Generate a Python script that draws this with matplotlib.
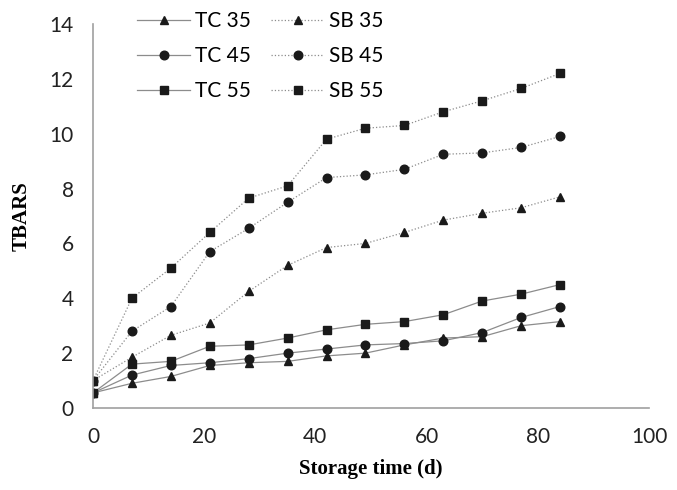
import matplotlib
matplotlib.use("Agg")
import matplotlib.pyplot as plt

days = [0, 7, 14, 21, 28, 35, 42, 49, 56, 63, 70, 77, 84]
tc35 = [0.55, 0.9, 1.15, 1.55, 1.65, 1.7, 1.9, 2.0, 2.3, 2.55, 2.6, 3.0, 3.15]
tc45 = [0.55, 1.2, 1.55, 1.65, 1.8, 2.0, 2.15, 2.3, 2.35, 2.45, 2.75, 3.3, 3.7]
tc55 = [0.55, 1.6, 1.7, 2.25, 2.3, 2.55, 2.85, 3.05, 3.15, 3.4, 3.9, 4.15, 4.5]
sb35 = [1.0, 1.85, 2.65, 3.1, 4.25, 5.2, 5.85, 6.0, 6.4, 6.85, 7.1, 7.3, 7.7]
sb45 = [1.0, 2.8, 3.7, 5.7, 6.55, 7.5, 8.4, 8.5, 8.7, 9.25, 9.3, 9.5, 9.9]
sb55 = [1.0, 4.0, 5.1, 6.4, 7.65, 8.1, 9.8, 10.2, 10.3, 10.8, 11.2, 11.65, 12.2]

fig = plt.figure(figsize=(6.77, 4.9), dpi=100)
ax = fig.add_axes([93/677, 1-408/490, (649-93)/677, (408-24)/490])

lc = '#8c8c8c'
mk = dict(color=lc, markerfacecolor='#1a1a1a', markeredgecolor='#1a1a1a')
series = [
    ('TC 35', tc35, '^', '-', 6.2),
    ('TC 45', tc45, 'o', '-', 6.2),
    ('TC 55', tc55, 's', '-', 6.0),
    ('SB 35', sb35, '^', ':', 6.2),
    ('SB 45', sb45, 'o', ':', 6.2),
    ('SB 55', sb55, 's', ':', 6.0),
]
for lab, vals, m, ls, ms in series:
    ax.plot(days, vals, marker=m, linestyle=ls, linewidth=0.9, markersize=ms, label=lab, **mk)

ax.set_xlim(0, 100)
ax.set_ylim(0, 14)
ax.set_xticks(range(0, 101, 20))
ax.set_yticks(range(0, 15, 2))
for s in ['top', 'right']:
    ax.spines[s].set_visible(False)
for s in ['left', 'bottom']:
    ax.spines[s].set_color('#a0a0a0')
    ax.spines[s].set_linewidth(1.2)
ax.tick_params(length=0, labelsize=15, labelcolor='#222222')
ax.tick_params(axis='y', pad=14)
ax.tick_params(axis='x', pad=14)
for t in ax.get_xticklabels() + ax.get_yticklabels():
    t.set_fontfamily('Lato')

ax.set_xlabel('Storage time (d)', fontfamily='Liberation Serif', fontweight='bold', fontsize=15, labelpad=8)
ax.set_ylabel('TBARS', fontfamily='Liberation Serif', fontweight='bold', fontsize=15, labelpad=13)

leg = ax.legend(ncol=2, loc='upper left', bbox_to_anchor=(129/677, 1-3/490),
                bbox_transform=fig.transFigure, frameon=False, borderaxespad=0,
                prop={'family': 'Lato', 'size': 15}, handlelength=2.55,
                labelspacing=0.72, columnspacing=1.0, handletextpad=0.2)

fig.savefig('out.png', dpi=100)
